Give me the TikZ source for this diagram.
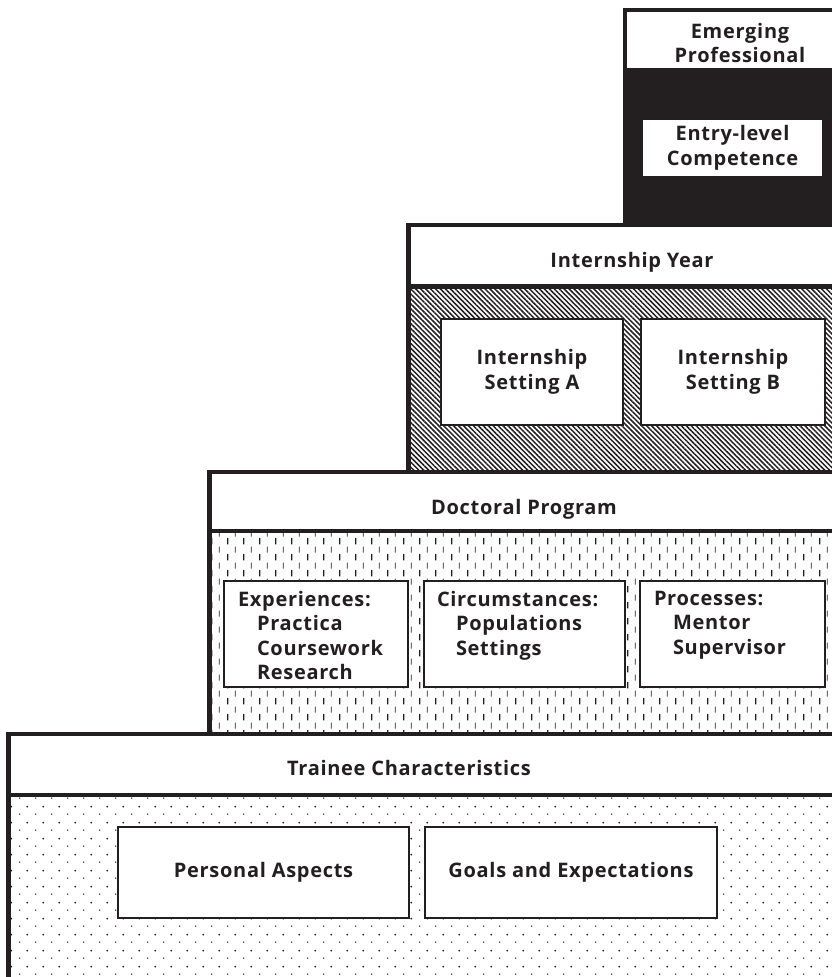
\documentclass[tikz,border=0pt]{standalone}
\usepackage{fontspec}
\setmainfont[LetterSpace=3.5]{Open Sans}
\usetikzlibrary{patterns.meta}
\definecolor{ink}{HTML}{231F20}

\tikzdeclarepattern{
  name=ticks,
  type=uncolored,
  bottom left={(0pt,0pt)},
  top right={(16pt,16pt)},
  tile size={(16pt,16pt)},
  code={
    \draw[line width=1.5pt] (4pt,0.75pt) -- (4pt,7.25pt);
    \draw[line width=0.8pt] (12pt,8.75pt) -- (12pt,15.25pt);
  }
}
\tikzdeclarepattern{
  name=speckles,
  type=uncolored,
  bottom left={(0pt,0pt)},
  top right={(16pt,16pt)},
  tile size={(16pt,16pt)},
  code={\fill (4pt,4pt) circle (0.8pt); \fill (12pt,12pt) circle (1.1pt);}
}

\tikzset{
  tier/.style={draw=ink, line width=4.5pt},
  header/.style={text=ink, align=center},
  cell/.style={draw=ink, fill=white, line width=2pt, inner sep=0pt,
    text=ink, align=center},
}

\begin{document}
\begin{tikzpicture}[x=1pt, y=-1pt, font=\fontsize{20}{24.5}\selectfont\bfseries]
      \useasboundingbox (0,0) rectangle (831,977);
      % fills
      \fill[pattern=speckles, pattern color=ink] (8.5,795) rectangle (845,990);
      \fill[pattern=ticks, pattern color=ink] (209.5,531) rectangle (845,734);
      \fill[pattern={Lines[angle=-45, distance=3.5pt, line width=1.5pt]},
        pattern color=ink] (408.5,286.5) rectangle (845,472);
      \fill[ink] (625,68) rectangle (845,225);
      % outlines
      \draw[tier] (845,734) -| (8.5,990);
      \draw[tier] (8.5,795) -- (845,795);
      \draw[tier] (845,472) -| (209.5,734);
      \draw[tier] (209.5,531) -- (845,531);
      \draw[tier] (845,225) -| (408.5,472);
      \draw[tier] (408.5,286.5) -- (845,286.5);
      \draw[tier] (845,10) -| (625,225);
      % headers
      \node[header] (emerging) at (740,43) {Emerging\\Professional};
      \node[header, anchor=base] (internship) at (632,267) {Internship Year};
      \node[header, anchor=base] (doctoral) at (524,514) {Doctoral Program};
      \node[header, anchor=base] (trainee) at (409,775) {Trainee Characteristics};
      % boxes
      \node[cell, minimum width=181, minimum height=58] (entry) at (732.5,148)
        {Entry-level\\Competence};
      \node[cell, minimum width=182, minimum height=106] (settingA) at (532,372)
        {Internship\\Setting A};
      \node[cell, minimum width=184, minimum height=106] (settingB) at (733,372)
        {Internship\\Setting B};
      \node[cell, minimum width=184, minimum height=106] (experiences) at (316,634)
        {\parbox[c][86pt][t]{156pt}{\raggedright Experiences:\\
          \hspace*{19pt}Practica\\\hspace*{19pt}Coursework\\\hspace*{19pt}Research}};
      \node[cell, minimum width=201, minimum height=106] (circumstances) at (524.5,634)
        {\parbox[c][86pt][t]{175pt}{\raggedright Circumstances:\\
          \hspace*{19pt}Populations\\\hspace*{19pt}Settings}};
      \node[cell, minimum width=185, minimum height=106] (processes) at (732.5,634)
        {\parbox[c][86pt][t]{157pt}{\raggedright Processes:\\
          \hspace*{19pt}Mentor\\\hspace*{19pt}Supervisor}};
      \node[cell, minimum width=291, minimum height=91] (personal) at (263.5,872.5)
        {Personal Aspects};
      \node[cell, minimum width=292, minimum height=91] (goals) at (571,872.5)
        {Goals and Expectations};
    \end{tikzpicture}
\end{document}
